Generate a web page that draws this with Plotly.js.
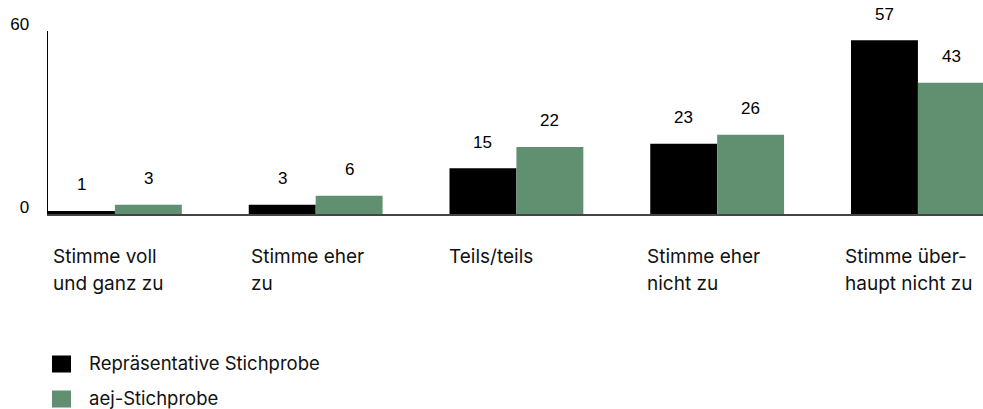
<!DOCTYPE html>
<html>
<head>
<meta charset="utf-8">
<script src="https://cdn.plot.ly/plotly-3.0.1.min.js"></script>
<style>html,body{margin:0;padding:0;background:#fff;}#chart{width:983px;height:409px;}</style>
</head>
<body>
<div id="chart"></div>
<script>
const categories = ["Stimme voll<br>und ganz zu", "Stimme eher<br>zu", "Teils/teils", "Stimme eher<br>nicht zu", "Stimme über-<br>haupt nicht zu"];
const seriesNames = ["Repräsentative Stichprobe", "aej-Stichprobe"];
const repValues = [1, 3, 15, 23, 57];
const aejValues = [3, 6, 22, 26, 43];
const yTickVals = [0, 60];
const yTickText = ["0", "60"];

const W = 983, H = 409;
const M = {l: 48, r: 0, t: 31, b: 195};
const plotW = W - M.l - M.r, plotH = H - M.t - M.b;
const px2x = p => (p - M.l) / plotW;
const py2y = p => (H - M.b - p) / plotH;

const colors = ["#000000", "#619070"];
const idx = categories.map((_, i) => i);
const barW = 1 / 3;

const traces = [
  {type: "bar", x: idx, y: repValues, name: seriesNames[0], offset: -0.5, width: barW,
   marker: {color: colors[0]}, hoverinfo: "skip", showlegend: false},
  {type: "bar", x: idx, y: aejValues, name: seriesNames[1], offset: -0.5 + barW, width: barW,
   marker: {color: colors[1]}, hoverinfo: "skip", showlegend: false}
];

const annotations = [];
const valFont = {family: "Liberation Sans, Arial, sans-serif", size: 17, color: "#000"};
[repValues, aejValues].forEach((vals, s) => {
  vals.forEach((v, i) => {
    annotations.push({x: i - 0.5 + barW * (s + 0.5), y: v, xref: "x", yref: "y",
      text: String(v), showarrow: false, yanchor: "middle", xanchor: "center", yshift: 26, font: valFont});
  });
});

const catFont = {family: "Inter, Noto Sans, sans-serif", size: 19, color: "#111"};
const legFont = {family: "Inter, Noto Sans, sans-serif", size: 18.5, color: "#111"};
categories.forEach((c, i) => {
  c.split("<br>").forEach((line, k) => {
    annotations.push({x: px2x(51 + 198 * i), xref: "paper", y: py2y(256 + 27 * k), yref: "paper",
      text: line, showarrow: false, xanchor: "left", yanchor: "middle", font: catFont});
  });
});

const shapes = [];
const legendRows = [364, 399];
seriesNames.forEach((n, s) => {
  const cy = legendRows[s];
  shapes.push({type: "rect", xref: "paper", yref: "paper",
    x0: px2x(52), x1: px2x(71), y0: py2y(cy - 8.5), y1: py2y(cy + 8.5),
    fillcolor: colors[s], line: {width: 0}});
  annotations.push({x: px2x(87), y: py2y(cy - 1), xref: "paper", yref: "paper", text: n,
    showarrow: false, xanchor: "left", yanchor: "middle", font: legFont});
});

const layout = {
  width: W, height: H, margin: M,
  paper_bgcolor: "#fff", plot_bgcolor: "#fff",
  barmode: "overlay",
  showlegend: false,
  xaxis: {range: [-0.5, -0.5 + plotW / 200.75], showticklabels: false, showgrid: false, zeroline: false,
    showline: true, linecolor: "#444", linewidth: 1.5, ticks: "", fixedrange: true},
  yaxis: {range: [0, 60], tickvals: yTickVals, ticktext: yTickText, showgrid: false, zeroline: false,
    showline: true, linecolor: "#000", linewidth: 1.5, ticks: "", ticklabelstandoff: 14, ticklabelshift: -7,
    tickfont: valFont, fixedrange: true},
  annotations: annotations,
  shapes: shapes
};

Plotly.newPlot("chart", traces, layout, {displayModeBar: false, staticPlot: true});
</script>
</body>
</html>
